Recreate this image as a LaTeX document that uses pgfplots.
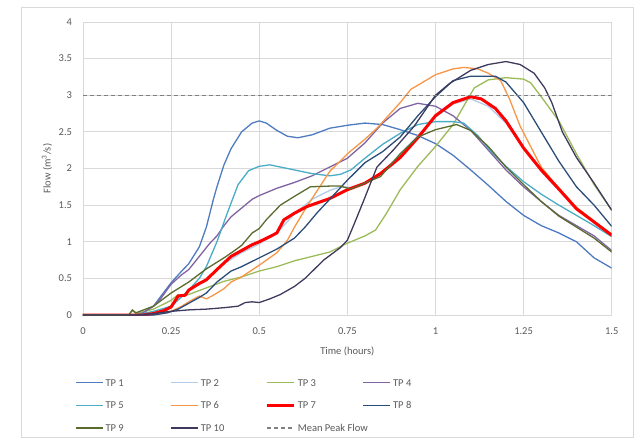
\documentclass[border=0pt]{standalone}
\usepackage{pgfplots}
\pgfplotsset{compat=1.18}
\usepackage{fontspec}
\setmainfont{Carlito}
\definecolor{gridgray}{HTML}{D9D9D9}
\definecolor{textgray}{HTML}{595959}
\definecolor{cTPa}{HTML}{4F7BBF}
\definecolor{cTPb}{HTML}{B4CBE8}
\definecolor{cTPc}{HTML}{9BBB59}
\definecolor{cTPd}{HTML}{8064A2}
\definecolor{cTPe}{HTML}{4BACC6}
\definecolor{cTPf}{HTML}{F79646}
\definecolor{cTPg}{HTML}{FF0000}
\definecolor{cTPh}{HTML}{2C4D78}
\definecolor{cTPi}{HTML}{5A6B2E}
\definecolor{cTPj}{HTML}{3E3A5E}
\definecolor{cMean}{HTML}{808080}
\newcommand{\lgd}[1]{\makebox[63bp][l]{\strut #1}}
\begin{document}
\begin{tikzpicture}
\begin{axis}[
  at={(0,0)}, anchor=south west,
  scale only axis, width=528.7bp, height=293bp,
  xmin=0, xmax=1.5, ymin=0, ymax=4,
  xtick={0,0.25,0.5,0.75,1,1.25,1.5},
  xticklabels={0,0.25,0.5,0.75,1,1.25,1.5},
  ytick={0,0.5,1,1.5,2,2.5,3,3.5,4},
  yticklabels={0,0.5,1,1.5,2,2.5,3,3.5,4},
  grid=major,
  major grid style={draw=gridgray, line width=0.8bp},
  axis line style={draw=gridgray, line width=0.8bp},
  major tick length=0pt,
  tick label style={font=\fontsize{10.5bp}{12.6bp}\selectfont, text=textgray},
  xticklabel style={yshift=-9bp},
  yticklabel style={xshift=-7.5bp},
  label style={font=\fontsize{10.5bp}{12.6bp}\selectfont, text=textgray},
  xlabel={Time (hours)},
  xlabel style={at={(axis description cs:0.5,-0.1229)}, anchor=center},
  ylabel={Flow (m\textsuperscript{3}/s)},
  ylabel style={at={(axis description cs:-0.0681,0.5)}, anchor=center, rotate=0},
  legend columns=4,
  legend cell align=left,
  legend image code/.code={\draw[#1] (0bp,0bp) -- (27bp,0bp);},
  legend style={draw=none, fill=none, inner sep=0pt,
    nodes={inner sep=2bp},
    row sep=8.5bp, column sep=0pt,
    font=\fontsize{10.5bp}{12.6bp}\selectfont, text=textgray,
    at={(axis description cs:-0.0151,-0.2048)}, anchor=north west},
  every axis plot/.append style={line width=1.3bp, line join=round},
]
\addplot[cTPa] coordinates {(0,0)(0.15,0)(0.17,0.03)(0.2,0.12)(0.22,0.25)(0.25,0.44)(0.28,0.6)(0.3,0.7)(0.33,0.93)(0.35,1.2)(0.37,1.58)(0.38,1.75)(0.4,2.05)(0.42,2.27)(0.45,2.5)(0.48,2.62)(0.5,2.65)(0.52,2.62)(0.55,2.52)(0.58,2.44)(0.61,2.42)(0.65,2.46)(0.7,2.55)(0.75,2.59)(0.8,2.62)(0.85,2.6)(0.9,2.53)(0.95,2.45)(1.0,2.34)(1.05,2.18)(1.1,1.98)(1.15,1.77)(1.2,1.55)(1.25,1.36)(1.3,1.22)(1.35,1.12)(1.4,1.0)(1.45,0.78)(1.5,0.64)};
\addlegendentry{\lgd{TP 1}}
\addplot[cTPb] coordinates {(0,0)(0.15,0)(0.2,0.02)(0.25,0.12)(0.3,0.33)(0.35,0.5)(0.4,0.7)(0.45,0.85)(0.5,0.97)(0.55,1.12)(0.6,1.38)(0.65,1.58)(0.7,1.7)(0.73,1.75)(0.77,1.74)(0.8,1.8)(0.85,1.95)(0.9,2.2)(0.95,2.45)(1.0,2.7)(1.05,2.88)(1.1,2.95)(1.15,2.85)(1.2,2.62)(1.25,2.28)(1.3,1.96)(1.35,1.7)(1.4,1.45)(1.45,1.26)(1.5,1.08)};
\addlegendentry{\lgd{TP 2}}
\addplot[cTPc] coordinates {(0,0)(0.13,0)(0.14,0.06)(0.15,0.02)(0.2,0.08)(0.25,0.2)(0.27,0.28)(0.28,0.26)(0.3,0.28)(0.35,0.37)(0.4,0.46)(0.45,0.52)(0.5,0.6)(0.55,0.66)(0.6,0.74)(0.65,0.8)(0.7,0.86)(0.75,0.98)(0.8,1.08)(0.83,1.16)(0.86,1.38)(0.9,1.71)(0.95,2.03)(1.0,2.3)(1.05,2.6)(1.08,2.85)(1.11,3.1)(1.15,3.21)(1.2,3.24)(1.25,3.22)(1.27,3.17)(1.3,2.98)(1.35,2.65)(1.4,2.2)(1.45,1.78)(1.5,1.43)};
\addlegendentry{\lgd{TP 3}}
\addplot[cTPd] coordinates {(0,0)(0.15,0)(0.17,0.03)(0.2,0.12)(0.22,0.22)(0.25,0.42)(0.28,0.55)(0.3,0.62)(0.33,0.8)(0.36,0.98)(0.38,1.08)(0.4,1.22)(0.42,1.34)(0.45,1.46)(0.48,1.58)(0.5,1.63)(0.55,1.73)(0.6,1.81)(0.65,1.9)(0.7,2.02)(0.75,2.14)(0.8,2.35)(0.85,2.62)(0.9,2.82)(0.95,2.89)(1.0,2.85)(1.05,2.72)(1.1,2.52)(1.15,2.25)(1.2,1.98)(1.25,1.75)(1.3,1.55)(1.35,1.36)(1.4,1.22)(1.45,1.08)(1.5,0.88)};
\addlegendentry{\lgd{TP 4}}
\addplot[cTPe] coordinates {(0,0)(0.15,0)(0.17,0.02)(0.2,0.05)(0.25,0.12)(0.28,0.25)(0.3,0.34)(0.33,0.5)(0.35,0.66)(0.38,1.0)(0.41,1.4)(0.44,1.78)(0.47,1.97)(0.5,2.03)(0.53,2.05)(0.56,2.02)(0.6,1.98)(0.65,1.93)(0.7,1.9)(0.73,1.92)(0.76,1.98)(0.8,2.14)(0.85,2.33)(0.9,2.48)(0.95,2.6)(1.0,2.64)(1.05,2.64)(1.08,2.62)(1.12,2.45)(1.16,2.22)(1.2,2.03)(1.25,1.82)(1.3,1.65)(1.35,1.5)(1.4,1.36)(1.45,1.22)(1.5,1.07)};
\addlegendentry{\lgd{TP 5}}
\addplot[cTPf] coordinates {(0,0)(0.15,0)(0.2,0.02)(0.25,0.05)(0.28,0.12)(0.3,0.18)(0.33,0.26)(0.35,0.22)(0.37,0.27)(0.4,0.36)(0.42,0.45)(0.45,0.52)(0.5,0.68)(0.55,0.85)(0.58,1.02)(0.6,1.2)(0.635,1.48)(0.7,1.96)(0.75,2.2)(0.8,2.4)(0.834,2.55)(0.9,2.9)(0.93,3.08)(1.0,3.28)(1.05,3.36)(1.08,3.38)(1.12,3.36)(1.15,3.3)(1.185,3.2)(1.21,2.95)(1.24,2.58)(1.27,2.3)(1.3,2.02)(1.35,1.73)(1.4,1.47)(1.45,1.28)(1.5,1.1)};
\addlegendentry{\lgd{TP 6}}
\addplot[cTPg, line width=3bp] coordinates {(0,0)(0.17,0)(0.2,0.02)(0.23,0.06)(0.25,0.11)(0.27,0.26)(0.29,0.27)(0.3,0.34)(0.33,0.43)(0.35,0.48)(0.38,0.62)(0.42,0.8)(0.45,0.88)(0.48,0.96)(0.5,1.0)(0.53,1.07)(0.55,1.12)(0.57,1.3)(0.6,1.39)(0.635,1.48)(0.7,1.59)(0.75,1.71)(0.8,1.8)(0.844,1.93)(0.9,2.15)(0.95,2.42)(1.0,2.72)(1.05,2.9)(1.1,2.98)(1.13,2.95)(1.17,2.82)(1.2,2.65)(1.25,2.28)(1.3,1.98)(1.35,1.72)(1.4,1.45)(1.45,1.27)(1.5,1.09)};
\addlegendentry{\lgd{TP 7}}
\addplot[cTPh] coordinates {(0,0)(0.2,0)(0.24,0.03)(0.27,0.08)(0.3,0.16)(0.33,0.24)(0.35,0.3)(0.38,0.45)(0.42,0.6)(0.45,0.66)(0.5,0.78)(0.55,0.9)(0.6,1.05)(0.63,1.2)(0.665,1.4)(0.7,1.58)(0.75,1.84)(0.8,2.08)(0.85,2.23)(0.9,2.43)(0.95,2.72)(1.0,2.98)(1.05,3.2)(1.1,3.26)(1.17,3.26)(1.2,3.18)(1.25,2.9)(1.3,2.5)(1.35,2.1)(1.4,1.75)(1.45,1.5)(1.5,1.21)};
\addlegendentry{\lgd{TP 8}}
\addplot[cTPi] coordinates {(0,0)(0.13,0)(0.14,0.07)(0.15,0.03)(0.2,0.12)(0.25,0.3)(0.3,0.45)(0.35,0.63)(0.4,0.78)(0.43,0.88)(0.45,0.95)(0.48,1.12)(0.5,1.18)(0.52,1.3)(0.56,1.5)(0.6,1.62)(0.645,1.75)(0.7,1.76)(0.73,1.76)(0.76,1.72)(0.8,1.8)(0.844,1.89)(0.9,2.2)(0.95,2.43)(1.0,2.53)(1.06,2.6)(1.1,2.52)(1.15,2.3)(1.2,2.02)(1.25,1.78)(1.3,1.55)(1.35,1.35)(1.4,1.2)(1.45,1.05)(1.5,0.86)};
\addlegendentry{\lgd{TP 9}}
\addplot[cTPj] coordinates {(0,0)(0.15,0)(0.2,0.02)(0.25,0.05)(0.3,0.07)(0.35,0.08)(0.4,0.1)(0.44,0.12)(0.46,0.17)(0.48,0.18)(0.5,0.17)(0.53,0.22)(0.56,0.28)(0.6,0.39)(0.63,0.5)(0.683,0.75)(0.73,0.92)(0.75,1.02)(0.77,1.25)(0.797,1.57)(0.834,2.02)(0.88,2.25)(0.94,2.58)(1.0,3.0)(1.04,3.16)(1.1,3.34)(1.15,3.42)(1.2,3.46)(1.24,3.42)(1.28,3.3)(1.31,3.1)(1.33,2.9)(1.36,2.5)(1.4,2.15)(1.45,1.8)(1.5,1.43)};
\addlegendentry{\lgd{TP 10}}
\addplot[cMean, line width=1.3bp, dash pattern=on 4bp off 3bp] coordinates {(0,3)(1.5,3)};
\addlegendentry{\lgd{Mean Peak Flow}}
\end{axis}
\draw[gridgray, line width=0.8bp] (-62bp,-122bp) rectangle (550bp,308bp);
\useasboundingbox (-83bp,-127bp) rectangle (553bp,315bp);
\end{tikzpicture}
\end{document}
